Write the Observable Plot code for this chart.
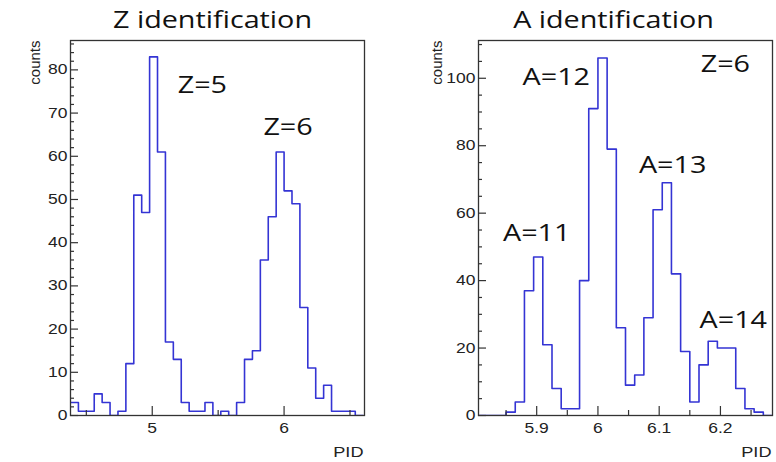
<!DOCTYPE html>
<html>
<head>
<meta charset="utf-8">
<script src="https://cdn.jsdelivr.net/npm/d3@7"></script>
<script src="https://cdn.jsdelivr.net/npm/@observablehq/plot@0.6"></script>
<style>
  html, body { margin: 0; padding: 0; background: #fff; }
  #wrap { display: flex; flex-direction: row; width: 776px; height: 462px; overflow: hidden; }
</style>
</head>
<body>
<div id="wrap"></div>
<script>
// ---------- Z identification (left) ----------
const zTitle = "Z identification";
const zBinStart = 4.38;
const zBinWidth = 0.06;
const zCounts = [3, 1, 1, 5, 3, 0, 1, 12, 51, 47, 83, 61, 17, 13, 3, 1, 1, 3, 0, 1, 0, 3, 13, 15, 36, 46, 61, 52, 49, 25, 11, 4, 7, 1, 1, 1, 0];
const zXDomain = [4.38, 6.61];
const zYDomain = [0, 86.8];
const zXMajor = [5, 6];
const zXMinor = [4.5, 5.5, 6.5];
const zYMajor = [0, 10, 20, 30, 40, 50, 60, 70, 80];
const zYMinor = [2, 4, 6, 8, 12, 14, 16, 18, 22, 24, 26, 28, 32, 34, 36, 38, 42, 44, 46, 48, 52, 54, 56, 58, 62, 64, 66, 68, 72, 74, 76, 78, 82, 84, 86];
const zLabelText = ["Z=5", "Z=6"];
const zLabelX = [5.38, 6.03];
const zLabelY = [76.4, 66.7];

// ---------- A identification (right) ----------
const aTitle = "A identification";
const aBinStart = 5.805;
const aBinWidth = 0.015;
const aCounts = [0, 0, 0, 1, 4, 37, 47, 21, 8, 2, 2, 40, 91, 106, 79, 26, 9, 12, 29, 61, 69, 42, 19, 4, 15, 22, 20, 20, 8, 2, 1, 0];
const aXDomain = [5.805, 6.285];
const aYDomain = [0, 111.2];
const aXMajor = [5.9, 6.0, 6.1, 6.2];
const aXMinor = [5.85, 5.95, 6.05, 6.15, 6.25];
const aYMajor = [0, 20, 40, 60, 80, 100];
const aYMinor = [5, 10, 15, 25, 30, 35, 45, 50, 55, 65, 70, 75, 85, 90, 95, 105, 110];
const aLabelText = ["A=11", "A=12", "A=13", "A=14", "Z=6"];
const aLabelX = [5.90, 5.932, 6.122, 6.221, 6.208];
const aLabelY = [54.0, 100.2, 74.1, 28.2, 104.1];

const yLabel = "counts";
const xLabel = "PID";

const lineColor = "#3434d4";
const axisColor = "#333";
const textScaleX = 1.25;

function steps(start, width, counts) {
  const pts = counts.map((c, i) => ({x: start + i * width, y: c}));
  pts.push({x: start + counts.length * width, y: counts[counts.length - 1]});
  return pts;
}

function panel(cfg) {
  const W = 388, H = 462;
  const fw = W - cfg.ml - cfg.mr;
  const fh = H - cfg.mt - cfg.mb;
  const labels = cfg.labelText.map((t, i) => ({t, x: cfg.labelX[i], y: cfg.labelY[i]}));
  const fmt = d => String(+d.toFixed(3));
  const svg = Plot.plot({
    width: W, height: H,
    marginLeft: cfg.ml, marginRight: cfg.mr, marginTop: cfg.mt, marginBottom: cfg.mb,
    x: {domain: cfg.xDomain},
    y: {domain: cfg.yDomain},
    style: {fontFamily: "'Liberation Sans', Arial, sans-serif", fontSize: "14px", color: "#222", background: "white", overflow: "visible"},
    marks: [
      Plot.line(steps(cfg.binStart, cfg.binWidth, cfg.counts), {x: "x", y: "y", curve: "step-after", stroke: lineColor, strokeWidth: 1.6, clip: true}),
      Plot.frame({stroke: axisColor, strokeWidth: 1.3}),
      Plot.tickY(cfg.yMajor, {y: d => d, stroke: axisColor, strokeWidth: 1.2, insetRight: fw - 8}),
      Plot.tickY(cfg.yMinor, {y: d => d, stroke: axisColor, strokeWidth: 1.2, insetRight: fw - 4}),
      Plot.tickX(cfg.xMajor, {x: d => d, stroke: axisColor, strokeWidth: 1.2, insetTop: fh - 9}),
      Plot.tickX(cfg.xMinor, {x: d => d, stroke: axisColor, strokeWidth: 1.2, insetTop: fh - 5}),
      Plot.axisY(cfg.yMajor, {tickSize: 0, tickPadding: 3, label: null, fontSize: 14, tickFormat: fmt}),
      Plot.axisX(cfg.xMajor, {tickSize: 0, tickPadding: 8, label: null, fontSize: 14, tickFormat: fmt}),
      Plot.text([yLabel], {frameAnchor: "top-left", rotate: -90, textAnchor: "end", dx: cfg.countsDx, fontSize: 15}),
      Plot.text([xLabel], {frameAnchor: "bottom-right", textAnchor: "end", lineAnchor: "middle", dy: 37, dx: -1, fontSize: 14.5}),
      Plot.text([cfg.title], {frameAnchor: "top", lineAnchor: "bottom", dy: -13, dx: cfg.titleDx, fontSize: 23, fontFamily: "'Open Sans', sans-serif", fill: "#111"}),
      Plot.text(labels, {x: "x", y: "y", text: "t", fontSize: 23, fontFamily: "'Open Sans', sans-serif", fill: "#111"})
    ]
  });
  // mimic the horizontally stretched lettering of the source picture
  svg.querySelectorAll("text").forEach(t => {
    const tr = t.getAttribute("transform") || "";
    if (!tr.includes("rotate")) t.setAttribute("transform", (tr + " scale(" + textScaleX + ",1)").trim());
  });
  return svg;
}

const wrap = document.getElementById("wrap");
wrap.append(panel({
  title: zTitle, titleDx: -5, countsDx: -41,
  ml: 70, mr: 24, mt: 40, mb: 47,
  binStart: zBinStart, binWidth: zBinWidth, counts: zCounts,
  xDomain: zXDomain, yDomain: zYDomain,
  xMajor: zXMajor, xMinor: zXMinor, yMajor: zYMajor, yMinor: zYMinor,
  labelText: zLabelText, labelX: zLabelX, labelY: zLabelY
}));
wrap.append(panel({
  title: aTitle, titleDx: -12, countsDx: -47,
  ml: 90, mr: 4, mt: 40, mb: 47,
  binStart: aBinStart, binWidth: aBinWidth, counts: aCounts,
  xDomain: aXDomain, yDomain: aYDomain,
  xMajor: aXMajor, xMinor: aXMinor, yMajor: aYMajor, yMinor: aYMinor,
  labelText: aLabelText, labelX: aLabelX, labelY: aLabelY
}));
</script>
</body>
</html>
